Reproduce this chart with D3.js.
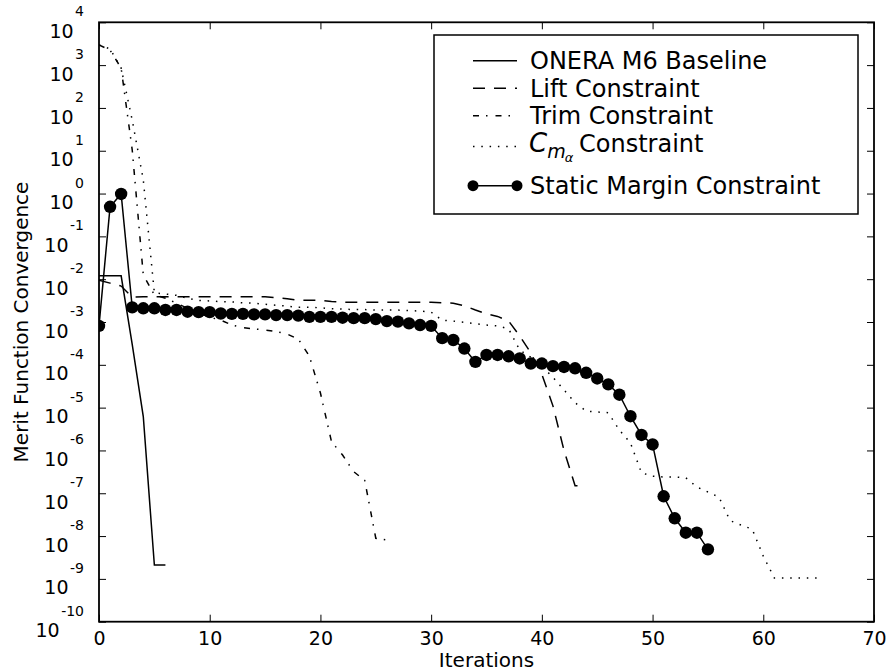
<!DOCTYPE html>
<html><head><meta charset="utf-8">
<script src="https://cdn.jsdelivr.net/npm/d3@7"></script>
<style>
body{margin:0;background:#fff}
svg{display:block}
text{font-family:"DejaVu Sans",sans-serif;fill:#000}
</style>
</head><body>
<svg id="chart" width="889" height="672"></svg>
<script>
// ---- data (values per iteration, starting at iteration 0) ----
const baseline = [0.012, 0.012, 0.012, 3.0e-4, 6.2e-6, 2.1e-9, 2.1e-9];
const lift = [9.5e-3, 8.1e-3, 6.9e-3, 3.8e-3, 3.9e-3, 3.9e-3, 3.9e-3, 3.9e-3, 3.9e-3, 3.9e-3,
  3.9e-3, 3.9e-3, 3.9e-3, 3.9e-3, 3.9e-3, 3.9e-3, 3.7e-3, 3.5e-3, 3.2e-3, 3.2e-3,
  3.2e-3, 3.0e-3, 2.9e-3, 2.9e-3, 2.9e-3, 2.9e-3, 2.9e-3, 2.9e-3, 2.9e-3, 2.9e-3,
  2.9e-3, 2.8e-3, 2.75e-3, 2.4e-3, 1.9e-3, 1.55e-3, 1.35e-3, 1.05e-3, 4.7e-4, 1.9e-4,
  6.0e-5, 1.1e-5, 1.0e-6, 1.5e-7, 1.5e-7];
const trim = [2950, 2240, 850, 10.5, 0.0126, 4.3e-3, 3.6e-3, 2.75e-3, 2.1e-3, 1.6e-3,
  1.3e-3, 1.1e-3, 8.5e-4, 7.4e-4, 6.9e-4, 6.5e-4, 6.0e-4, 5.2e-4, 4.0e-4, 1.6e-4,
  2.2e-5, 1.6e-6, 7.8e-7, 3.2e-7, 2.0e-7, 8.9e-9, 8.1e-9];
const cmAlpha = [2950, 2400, 850, 52, 2.1, 4.8e-3, 4.5e-3, 4.2e-3, 3.6e-3, 3.2e-3,
  3.1e-3, 3.0e-3, 2.95e-3, 2.8e-3, 2.75e-3, 2.6e-3, 2.45e-3, 2.35e-3, 2.2e-3, 2.2e-3,
  2.15e-3, 2.05e-3, 2.0e-3, 1.95e-3, 1.95e-3, 1.9e-3, 1.9e-3, 1.9e-3, 1.85e-3, 1.8e-3,
  1.7e-3, 1.1e-3, 1.05e-3, 9.8e-4, 9.1e-4, 8.5e-4, 8.1e-4, 6.9e-4, 2.2e-4, 1.5e-4,
  9.3e-5, 5.1e-5, 2.6e-5, 1.3e-5, 8.3e-6, 7.9e-6, 7.6e-6, 3.0e-6, 1.5e-6, 3.0e-7,
  2.5e-7, 2.4e-7, 2.4e-7, 2.3e-7, 1.4e-7, 1.07e-7, 8.1e-8, 2.3e-8, 1.8e-8, 1.45e-8,
  3.4e-9, 1.05e-9, 1.05e-9, 1.05e-9, 1.05e-9, 1.05e-9];
const staticMargin = [8.1e-4, 0.49, 0.98, 2.19e-3, 2.09e-3, 2.09e-3, 1.91e-3, 1.91e-3, 1.74e-3, 1.70e-3,
  1.70e-3, 1.58e-3, 1.55e-3, 1.55e-3, 1.51e-3, 1.51e-3, 1.45e-3, 1.45e-3, 1.41e-3, 1.32e-3,
  1.32e-3, 1.32e-3, 1.26e-3, 1.23e-3, 1.23e-3, 1.17e-3, 1.05e-3, 1.02e-3, 9.3e-4, 8.5e-4,
  8.1e-4, 4.2e-4, 3.8e-4, 2.4e-4, 1.17e-4, 1.70e-4, 1.70e-4, 1.58e-4, 1.41e-4, 1.07e-4,
  1.07e-4, 9.3e-5, 8.9e-5, 8.3e-5, 6.5e-5, 4.8e-5, 3.5e-5, 2.0e-5, 6.3e-6, 2.3e-6,
  1.38e-6, 8.5e-8, 2.6e-8, 1.2e-8, 1.2e-8, 4.9e-9];
const seriesNames = ["ONERA M6 Baseline", "Lift Constraint", "Trim Constraint", "Constraint", "Static Margin Constraint"];
const xTicks = [0, 10, 20, 30, 40, 50, 60, 70];
const yExponents = [4, 3, 2, 1, 0, -1, -2, -3, -4, -5, -6, -7, -8, -9, -10];
const xLabel = "Iterations";
const yLabel = "Merit Function Convergence";

// ---- layout ----
const L = 99, R = 874, T = 22.3, B = 621.7;
const svg = d3.select("#chart");
const x = d3.scaleLinear().domain([0, 70]).range([L, R]);
const y = d3.scaleLog().domain([1e-10, 1e4]).range([B, T]);

const styles = [
  {dash: null},
  {dash: "12,9"},
  {dash: "6,7,1.5,8"},
  {dash: "1.5,6.8"},
  {dash: null, marker: true}
];
const allSeries = [baseline, lift, trim, cmAlpha, staticMargin];

svg.append("clipPath").attr("id", "clip")
  .append("rect").attr("x", L).attr("y", T).attr("width", R - L).attr("height", B - T);

// ticks via d3 axes (inward)
const tickLen = 7, tfs = 19;
svg.append("g").attr("transform", `translate(0,${B})`)
  .call(d3.axisBottom(x).tickValues(xTicks).tickSize(-tickLen).tickPadding(10).tickFormat(d => d))
  .call(g => g.select(".domain").remove())
  .call(g => g.selectAll("line").attr("stroke", "#000").attr("stroke-width", 1))
  .call(g => g.selectAll("text").attr("font-size", tfs).attr("font-family", "DejaVu Sans").attr("fill", "#000").attr("dy", null).attr("y", 23.8));
svg.append("g").attr("transform", `translate(0,${T})`)
  .call(d3.axisTop(x).tickValues(xTicks).tickSize(-tickLen).tickFormat(""))
  .call(g => g.select(".domain").remove())
  .call(g => g.selectAll("line").attr("stroke", "#000").attr("stroke-width", 1));
const yTickVals = yExponents.map(e => Math.pow(10, e));
svg.append("g").attr("transform", `translate(${L},0)`)
  .call(d3.axisLeft(y).tickValues(yTickVals).tickSize(-tickLen).tickFormat(""))
  .call(g => g.select(".domain").remove())
  .call(g => g.selectAll("line").attr("stroke", "#000").attr("stroke-width", 1));
svg.append("g").attr("transform", `translate(${R},0)`)
  .call(d3.axisRight(y).tickValues(yTickVals).tickSize(-tickLen).tickFormat(""))
  .call(g => g.select(".domain").remove())
  .call(g => g.selectAll("line").attr("stroke", "#000").attr("stroke-width", 1));

// y tick labels 10^e
yExponents.forEach(e => {
  const yy = y(Math.pow(10, e));
  const t = svg.append("text").attr("x", 84).attr("y", yy + 15.6).attr("text-anchor", "end");
  t.append("tspan").attr("font-size", tfs).text("10");
  t.append("tspan").attr("font-size", 14).attr("dx", 1.5).attr("dy", -21.6).text(e);
});

// lines
const plot = svg.append("g").attr("clip-path", "url(#clip)");
const line = d3.line().x((d, i) => x(i)).y(d => y(d));
allSeries.forEach((s, k) => {
  const p = plot.append("path").datum(s).attr("d", line)
    .attr("fill", "none").attr("stroke", "#000").attr("stroke-width", 1.5);
  if (styles[k].dash) p.attr("stroke-dasharray", styles[k].dash);
  if (styles[k].marker) {
    plot.selectAll("circle.sm").data(s).enter().append("circle")
      .attr("class", "sm").attr("cx", (d, i) => x(i)).attr("cy", d => y(d)).attr("r", 6.2).attr("fill", "#000");
  }
});

// frame
svg.append("rect").attr("x", L).attr("y", T).attr("width", R - L).attr("height", B - T)
  .attr("fill", "none").attr("stroke", "#000").attr("stroke-width", 1.8);

// axis labels
svg.append("text").attr("x", (L + R) / 2).attr("y", 667).attr("text-anchor", "middle")
  .attr("font-size", 20).text(xLabel);
svg.append("text").attr("transform", `translate(28,${(T + B) / 2}) rotate(-90)`)
  .attr("text-anchor", "middle").attr("font-size", 20).text(yLabel);

// legend
const lg = svg.append("g");
lg.append("rect").attr("x", 434).attr("y", 35).attr("width", 424).attr("height", 179)
  .attr("fill", "#fff").attr("stroke", "#000").attr("stroke-width", 1.5);
const rowsY = [60.7, 88.3, 115.7, 146.5, 185.7];
const lx0 = 473, lx1 = 517, tx = 530, lfs = 24;
seriesNames.forEach((name, k) => {
  const yy = rowsY[k];
  const ln = lg.append("line").attr("x1", lx0).attr("x2", lx1).attr("y1", yy).attr("y2", yy)
    .attr("stroke", "#000").attr("stroke-width", 1.5);
  if (styles[k].dash) ln.attr("stroke-dasharray", styles[k].dash);
  if (styles[k].marker) {
    [lx0, lx1].forEach(cx => lg.append("circle").attr("cx", cx).attr("cy", yy).attr("r", 5.5).attr("fill", "#000"));
  }
  if (k === 3) {
    const c = lg.append("text").attr("x", tx - 1).attr("y", yy + 5.5)
      .attr("font-family", "Liberation Serif, DejaVu Serif, serif").attr("font-style", "italic");
    c.append("tspan").attr("font-size", 26).text("C");
    c.append("tspan").attr("font-size", 19).attr("dy", 6).attr("dx", 0).text("m");
    c.append("tspan").attr("font-size", 13).attr("dy", 4).attr("dx", -1).text("α");
    lg.append("text").attr("x", 579).attr("y", yy + 5.5).attr("font-size", lfs).text(name);
  } else {
    lg.append("text").attr("x", tx).attr("y", yy + 8.3).attr("font-size", lfs).text(name);
  }
});
</script>
</body></html>
